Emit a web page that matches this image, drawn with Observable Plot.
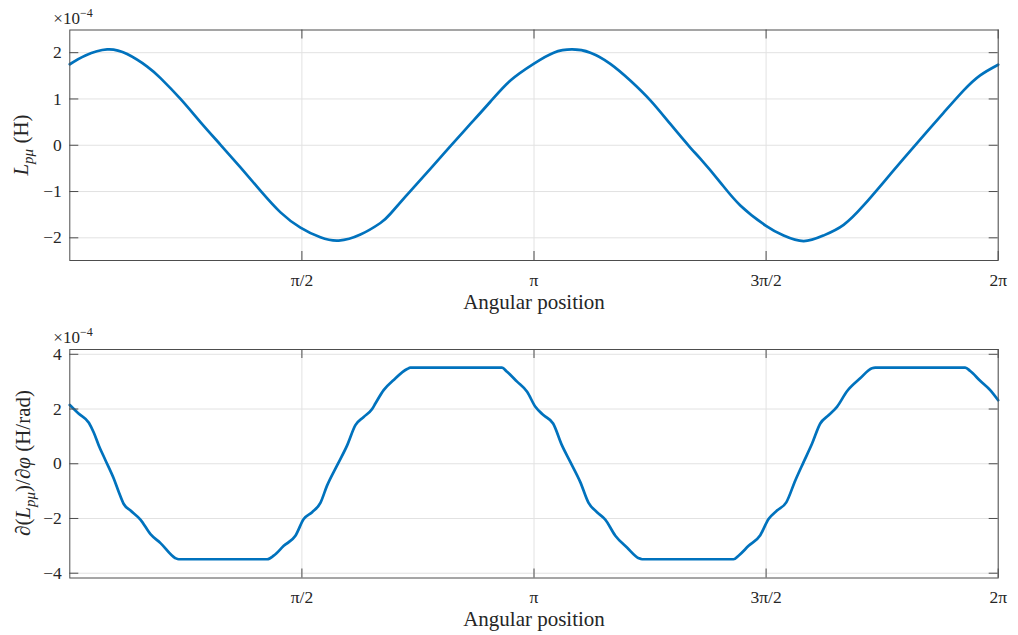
<!DOCTYPE html>
<html><head><meta charset="utf-8">
<script src="https://cdn.jsdelivr.net/npm/d3@7"></script>
<script src="https://cdn.jsdelivr.net/npm/@observablehq/plot@0.6"></script>
<style>
html,body{margin:0;padding:0;background:#fff;}
#chart{width:1018px;height:635px;position:relative;overflow:hidden;background:#fff;}
#chart svg{display:block;}
</style></head><body><div id="chart"></div>
<script>
// ---- data (angle in rad, values in units of 1e-4) ----
const angleTop = [0, 0.106, 0.253, 0.388, 0.524, 0.614, 0.749, 0.884, 1.020, 1.155, 1.290, 1.426, 1.561, 1.696, 1.820, 1.967, 2.102, 2.170, 2.305, 2.440, 2.576, 2.711, 2.846, 2.982, 3.139, 3.275, 3.399, 3.523, 3.658, 3.793, 3.929, 4.064, 4.199, 4.267, 4.402, 4.538, 4.712, 4.831, 4.966, 5.101, 5.237, 5.372, 5.507, 5.643, 5.778, 5.913, 6.048, 6.161, 6.283];
const inductance = [1.75, 1.94, 2.07, 1.97, 1.70, 1.45, 1.00, 0.50, 0.01, -0.48, -0.98, -1.45, -1.78, -1.99, -2.06, -1.93, -1.68, -1.48, -0.99, -0.51, -0.02, 0.46, 0.94, 1.40, 1.76, 2.00, 2.07, 2.00, 1.76, 1.40, 0.97, 0.46, -0.05, -0.29, -0.80, -1.30, -1.74, -1.95, -2.07, -1.95, -1.72, -1.30, -0.80, -0.29, 0.21, 0.70, 1.18, 1.51, 1.74];

const angleBottom = [0, 0.061, 0.129, 0.162, 0.196, 0.242, 0.298, 0.332, 0.365, 0.411, 0.478, 0.546, 0.614, 0.715, 0.737, 1.336, 1.380, 1.448, 1.527, 1.583, 1.640, 1.696, 1.741, 1.809, 1.877, 1.933, 1.989, 2.046, 2.068, 2.124, 2.192, 2.283, 2.305, 2.925, 2.959, 3.027, 3.095, 3.151, 3.207, 3.271, 3.331, 3.388, 3.455, 3.511, 3.568, 3.624, 3.692, 3.771, 3.850, 3.873, 4.492, 4.526, 4.594, 4.673, 4.729, 4.786, 4.849, 4.910, 4.966, 5.023, 5.079, 5.135, 5.192, 5.260, 5.349, 5.429, 5.451, 6.060, 6.094, 6.161, 6.229, 6.283];
const derivative = [2.15, 1.83, 1.50, 1.14, 0.67, 0.12, -0.55, -1.04, -1.47, -1.71, -2.04, -2.57, -2.90, -3.45, -3.49, -3.49, -3.36, -3.00, -2.63, -2.02, -1.77, -1.43, -0.80, -0.06, 0.67, 1.41, 1.71, 2.00, 2.20, 2.69, 3.06, 3.46, 3.51, 3.51, 3.36, 3.00, 2.63, 2.08, 1.77, 1.47, 0.67, 0.06, -0.67, -1.43, -1.77, -2.04, -2.63, -3.06, -3.45, -3.49, -3.49, -3.36, -3.00, -2.61, -2.02, -1.71, -1.41, -0.61, 0.06, 0.73, 1.47, 1.77, 2.08, 2.65, 3.12, 3.49, 3.51, 3.51, 3.39, 3.03, 2.69, 2.32];

const xTickValues = [Math.PI / 2, Math.PI, 3 * Math.PI / 2, 2 * Math.PI];
const xTickLabels = ["π/2", "π", "3π/2", "2π"];
const yTicksTop = [-2, -1, 0, 1, 2];
const yTicksBottom = [-4, -2, 0, 2, 4];
const xLabel = "Angular position";
const exponentBase = "×10";
const exponentPower = "−4";

// ---- styling ----
const FONT = "'Liberation Serif', 'DejaVu Serif', serif";
const TXT = "#262626", GRID = "#e2e2e2", AXIS = "#4d4d4d", LINE = "#0072BD";
const fmtY = d => d < 0 ? "\u2212" + Math.abs(d) : String(d);
const fmtX = d => xTickLabels[xTickValues.indexOf(d)];

function panel({angles, values, yDomain, yTicks, height, marginTop, marginBottom, curve}) {
  const marginLeft = 69.3, marginRight = 20.3, tick = 9;
  const innerH = height - marginTop - marginBottom;
  const innerW = 1018 - marginLeft - marginRight;
  const data = angles.map((a, i) => ({a, v: values[i]}));
  return Plot.plot({
    width: 1018, height, marginTop, marginBottom, marginLeft, marginRight,
    style: {fontFamily: FONT, fontSize: "17.5px", color: TXT, background: "white", overflow: "visible"},
    x: {domain: [0, 2 * Math.PI]},
    y: {domain: yDomain},
    marks: [
      Plot.gridX(xTickValues, {stroke: GRID, strokeOpacity: 1, strokeWidth: 1}),
      Plot.gridY(yTicks, {stroke: GRID, strokeOpacity: 1, strokeWidth: 1}),
      Plot.line(data, {x: "a", y: "v", stroke: LINE, strokeWidth: 2.7, curve}),
      Plot.tickX(xTickValues, {x: d => d, stroke: AXIS, insetTop: innerH - tick}),
      Plot.tickX(xTickValues, {x: d => d, stroke: AXIS, insetBottom: innerH - tick}),
      Plot.tickY(yTicks, {y: d => d, stroke: AXIS, insetRight: innerW - tick}),
      Plot.tickY(yTicks, {y: d => d, stroke: AXIS, insetLeft: innerW - tick}),
      Plot.axisX(xTickValues, {tickSize: 0, tickPadding: 13, tickFormat: fmtX, label: null, fill: TXT}),
      Plot.axisY(yTicks, {tickSize: 0, tickPadding: 8, tickFormat: fmtY, label: null, fill: TXT}),
      Plot.frame({stroke: AXIS, strokeWidth: 1}),
      Plot.text([xLabel], {frameAnchor: "bottom", dy: 48, fontSize: 21, fill: TXT})
    ]
  });
}

function decorate(svg, parts, lx, ly, ey) {
  const s = d3.select(svg);
  // exponent
  const e = s.append("text").attr("x", 73).attr("y", ey)
    .attr("font-family", FONT).attr("font-size", 17).attr("fill", TXT);
  e.append("tspan").text(exponentBase);
  e.append("tspan").attr("dy", -7).attr("font-size", 12).text(exponentPower);
  // y label
  const t = s.append("text").attr("transform", `translate(${lx},${ly}) rotate(-90)`)
    .attr("text-anchor", "middle").attr("font-family", FONT).attr("font-size", 21).attr("fill", TXT);
  let shifted = false;
  for (const p of parts) {
    const sp = t.append("tspan").text(p.t);
    if (p.italic) sp.attr("font-style", "italic");
    if (p.sub) { sp.attr("dy", 5).attr("font-size", 15); shifted = true; }
    else if (shifted) { sp.attr("dy", -5); shifted = false; }
  }
}

const chart = document.getElementById("chart");
const top1 = panel({angles: angleTop, values: inductance, yDomain: [-2.49, 2.49], yTicks: yTicksTop,
  height: 320, marginTop: 29.5, marginBottom: 60, curve: "natural"});
const bot1 = panel({angles: angleBottom, values: derivative, yDomain: [-4.175, 4.175], yTicks: yTicksBottom,
  height: 315, marginTop: 29, marginBottom: 57.5, curve: "monotone-x"});
chart.appendChild(top1);
chart.appendChild(bot1);
decorate(top1, [{t: "L", italic: true}, {t: "pμ", italic: true, sub: true}, {t: " (H)"}], 28, 145, 24);
decorate(bot1, [{t: "∂("}, {t: "L", italic: true}, {t: "pμ", italic: true, sub: true}, {t: ")/∂"}, {t: "φ", italic: true}, {t: " (H/rad)"}], 30, 143, 22.5);
</script></body></html>
